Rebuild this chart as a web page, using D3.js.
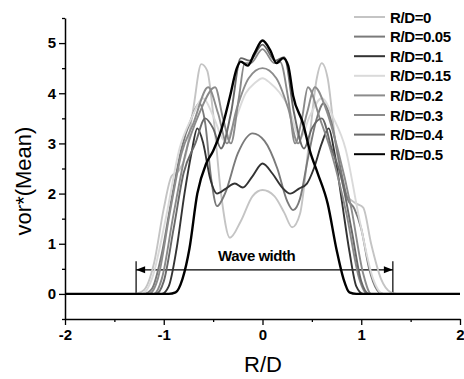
<!DOCTYPE html>
<html>
<head>
<meta charset="utf-8">
<script src="https://cdn.jsdelivr.net/npm/d3@7"></script>
<style>
  body { margin: 0; background: #fff; }
  text { font-family: Arial, "Liberation Sans", sans-serif; }
</style>
</head>
<body>
<div id="plot"></div>
<script>
// legend labels + colours
var labels = ['R/D=0', 'R/D=0.05', 'R/D=0.1', 'R/D=0.15', 'R/D=0.2', 'R/D=0.3', 'R/D=0.4', 'R/D=0.5'];
var colors = ['#c4c4c4', '#7a7a7a', '#333333', '#dadada', '#8c8c8c', '#8a8a8a', '#686868', '#000000'];

// profiles, [R/D, vor*]
var rd000 = [[-2,0],[-1.3,0],[-1.2,0.08],[-1.1,0.6],[-1.0,1.7],[-0.92,2.35],[-0.85,2.45],[-0.78,2.75],[-0.7,3.7],[-0.62,4.58],[-0.56,4.45],[-0.5,3.6],[-0.42,2.0],[-0.33,1.12],[-0.22,1.45],[-0.1,1.95],[0,2.07],[0.12,1.95],[0.22,1.62],[0.3,1.33],[0.38,1.6],[0.47,3.0],[0.55,4.3],[0.6,4.6],[0.66,4.3],[0.74,3.0],[0.84,2.0],[0.95,1.8],[1.02,1.72],[1.1,1.0],[1.2,0.3],[1.3,0.03],[1.36,0],[2,0]];
var rd005 = [[-2,0],[-1.2,0],[-1.12,0.1],[-1.02,0.8],[-0.92,1.9],[-0.82,2.9],[-0.72,3.5],[-0.64,3.8],[-0.58,3.4],[-0.52,2.3],[-0.46,1.75],[-0.38,2.0],[-0.25,2.8],[-0.1,3.2],[0.02,3.05],[0.15,2.5],[0.25,1.85],[0.31,1.67],[0.38,1.9],[0.46,2.7],[0.55,3.5],[0.62,3.8],[0.7,3.4],[0.78,2.6],[0.86,1.9],[0.93,1.7],[1.0,1.3],[1.08,0.5],[1.16,0.08],[1.22,0],[2,0]];
var rd010 = [[-2,0],[-1.02,0],[-0.95,0.15],[-0.87,0.9],[-0.79,2.0],[-0.72,2.8],[-0.66,3.3],[-0.6,3.0],[-0.53,2.3],[-0.46,2.0],[-0.37,2.1],[-0.28,2.2],[-0.2,2.12],[-0.1,2.35],[0,2.6],[0.1,2.4],[0.2,2.12],[0.28,2.0],[0.37,2.1],[0.45,2.2],[0.52,2.5],[0.6,3.0],[0.67,3.3],[0.73,2.8],[0.8,1.9],[0.88,0.85],[0.95,0.15],[1.02,0],[2,0]];
var rd015 = [[-2,0],[-1.22,0],[-1.12,0.3],[-0.98,1.5],[-0.84,2.9],[-0.72,3.5],[-0.6,3.9],[-0.5,3.55],[-0.38,3.05],[-0.28,3.45],[-0.17,4.0],[-0.08,4.2],[0,4.3],[0.08,4.2],[0.17,4.02],[0.27,3.7],[0.38,3.1],[0.48,3.55],[0.6,3.9],[0.72,3.5],[0.84,2.9],[0.98,1.5],[1.12,0.3],[1.22,0],[2,0]];
var rd020 = [[-2,0],[-1.15,0],[-1.06,0.3],[-0.94,1.6],[-0.82,2.8],[-0.7,3.4],[-0.55,4.12],[-0.45,3.6],[-0.36,3.0],[-0.26,3.7],[-0.14,4.3],[0,4.5],[0.14,4.3],[0.26,3.7],[0.36,3.0],[0.45,3.6],[0.53,4.12],[0.64,3.7],[0.76,2.9],[0.9,1.7],[1.02,0.4],[1.1,0],[2,0]];
var rd030 = [[-2,0],[-1.1,0],[-1.02,0.3],[-0.9,1.6],[-0.78,2.8],[-0.64,3.6],[-0.48,4.12],[-0.4,3.5],[-0.32,3.0],[-0.24,3.9],[-0.18,4.6],[-0.12,4.6],[0,4.88],[0.12,4.6],[0.18,4.62],[0.26,3.9],[0.33,3.0],[0.4,3.5],[0.46,4.12],[0.58,3.5],[0.7,2.8],[0.85,1.6],[0.98,0.3],[1.06,0],[2,0]];
var rd040 = [[-2,0],[-1.08,0],[-1.0,0.25],[-0.9,1.3],[-0.8,2.4],[-0.68,3.0],[-0.58,3.5],[-0.5,3.3],[-0.42,2.9],[-0.32,3.6],[-0.22,4.7],[-0.13,4.65],[0,4.97],[0.13,4.65],[0.22,4.72],[0.32,3.6],[0.42,2.9],[0.5,3.3],[0.6,3.5],[0.7,2.9],[0.8,2.3],[0.9,1.3],[1.0,0.25],[1.08,0],[2,0]];
var rd050 = [[-2,0],[-0.95,0],[-0.88,0.03],[-0.81,0.3],[-0.74,0.9],[-0.66,2.0],[-0.57,2.6],[-0.5,2.85],[-0.42,3.25],[-0.33,3.93],[-0.26,4.5],[-0.22,4.63],[-0.15,4.55],[-0.08,4.8],[0,5.05],[0.08,4.85],[0.14,4.6],[0.21,4.7],[0.26,4.55],[0.31,3.95],[0.41,3.4],[0.48,2.85],[0.56,2.4],[0.66,1.8],[0.75,0.88],[0.82,0.3],[0.88,0.03],[0.95,0],[2,0]];
var series = [rd000, rd005, rd010, rd015, rd020, rd030, rd040, rd050];

var xTicks = [-2, -1, 0, 1, 2];
var yTicks = [0, 1, 2, 3, 4, 5];
var waveWidth = [-1.28, 1.32];

var width = 464, height = 379;
var svg = d3.select("#plot").append("svg")
  .attr("width", width).attr("height", height);

var x = d3.scaleLinear().domain([-2, 2]).range([65, 460]);
var y = d3.scaleLinear().domain([-0.5, 5.5]).range([319, 18]);

// plain hyphen, not the unicode minus
var fmt = function(d) { return String(d); };

// y axis, majors with labels, minors at .5
var yAxis = svg.append("g").attr("transform", "translate(65,0)");
yAxis.call(d3.axisLeft(y).tickValues(yTicks).tickSize(6).tickSizeOuter(0).tickFormat(fmt));
yAxis.append("g").call(d3.axisLeft(y).tickValues([-0.5, 0.5, 1.5, 2.5, 3.5, 4.5, 5.5]).tickSize(3).tickFormat(""))
  .select(".domain").remove();

var xAxis = svg.append("g").attr("transform", "translate(0,319)");
xAxis.call(d3.axisBottom(x).tickValues(xTicks).tickSize(6).tickSizeOuter(0).tickFormat(fmt));
xAxis.append("g").call(d3.axisBottom(x).tickValues([-1.5, -0.5, 0.5, 1.5]).tickSize(3).tickFormat(""))
  .select(".domain").remove();

svg.selectAll(".domain").attr("stroke", "#000").attr("stroke-width", 1.5);
svg.selectAll(".tick line").attr("stroke", "#000").attr("stroke-width", 1.3);
svg.selectAll(".tick text")
  .style("font-size", "15px").style("font-weight", "bold")
  .style("font-family", "Arial, 'Liberation Sans', sans-serif").attr("fill", "#000");
yAxis.selectAll(".tick text").attr("x", -9);
xAxis.selectAll(".tick text").attr("y", 10);

// axis titles
svg.append("text")
  .attr("transform", "translate(31,181) rotate(-90)")
  .attr("text-anchor", "middle")
  .style("font-size", "22px")
  .text("vor*(Mean)");
svg.append("text")
  .attr("x", 263).attr("y", 372)
  .attr("text-anchor", "middle")
  .style("font-size", "22px")
  .text("R/D");

// wave width marker
var ww = svg.append("g").attr("stroke", "#000").attr("stroke-width", 1.2);
waveWidth.forEach(function(v) {
  ww.append("line").attr("x1", x(v)).attr("x2", x(v)).attr("y1", y(0)).attr("y2", y(0.65));
});
ww.append("line").attr("x1", x(waveWidth[0])).attr("x2", x(waveWidth[1]))
  .attr("y1", y(0.48)).attr("y2", y(0.48));
var ay = y(0.48);
svg.append("path")
  .attr("d", "M" + x(waveWidth[0]) + "," + ay + "l9,-3.5l0,7z").attr("fill", "#000");
svg.append("path")
  .attr("d", "M" + x(waveWidth[1]) + "," + ay + "l-9,-3.5l0,7z").attr("fill", "#000");
svg.append("text")
  .attr("x", x(-0.06)).attr("y", y(0.65))
  .attr("text-anchor", "middle")
  .style("font-size", "15px").style("font-weight", "bold")
  .style("letter-spacing", "-0.5px")
  .text("Wave width");

// curves
var line = d3.line()
  .x(function(d) { return x(d[0]); })
  .y(function(d) { return y(d[1]); })
  .curve(d3.curveMonotoneX);

svg.selectAll("path.curve")
  .data(series)
  .enter()
  .append("path")
  .attr("class", "curve")
  .attr("fill", "none")
  .attr("stroke", function(d, i) { return colors[i]; })
  .attr("stroke-width", function(d, i) { return i == 7 ? 2.4 : 1.9; })
  .attr("d", line);

// legend
var legend = svg.append("g");
labels.forEach(function(lab, i) {
  var ly = 17 + i * 19.6;
  legend.append("line")
    .attr("x1", 354).attr("x2", 385).attr("y1", ly).attr("y2", ly)
    .attr("stroke", colors[i]).attr("stroke-width", 2);
  legend.append("text")
    .attr("x", 390).attr("y", ly + 5.5)
    .style("font-size", "15px").style("font-weight", "bold")
    .style("letter-spacing", "-0.4px")
    .text(lab);
});
</script>
</body>
</html>
